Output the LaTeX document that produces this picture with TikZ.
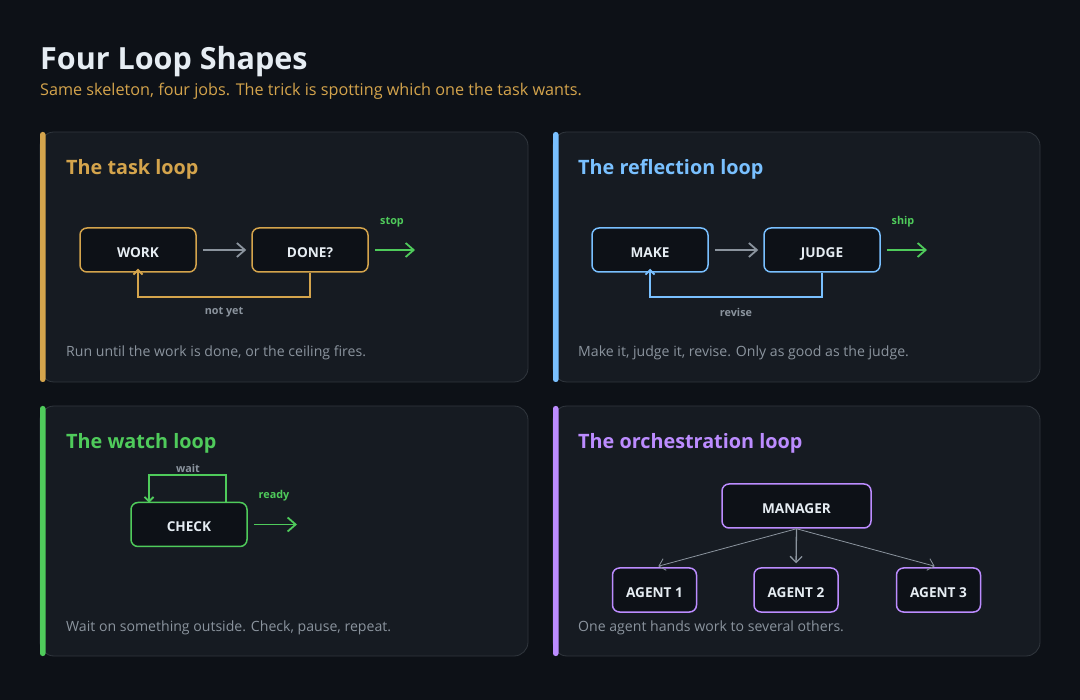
\documentclass[tikz,border=0pt]{standalone}
\usepackage{fontspec}
\setmainfont{Open Sans}
\usepackage{tikz}
\usetikzlibrary{
    arrows.meta,
    positioning
}

\definecolor{pagebg}{HTML}{0D1117}
\definecolor{cardbg}{HTML}{161B22}
\definecolor{cardline}{HTML}{30363D}
\definecolor{boxbg}{HTML}{0D1117}
\definecolor{inktext}{HTML}{E6EDF3}
\definecolor{mutetext}{HTML}{8B949E}
\definecolor{taskcol}{HTML}{D4A44C}
\definecolor{reflcol}{HTML}{79C0FF}
\definecolor{watchcol}{HTML}{4FCB5B}
\definecolor{orchcol}{HTML}{BC8CFF}

\tikzset{
    card/.style={fill=cardbg, draw=cardline, line width=0.8pt, rounded corners=14pt},
    accent/.style={fill=#1, rounded corners=2.5pt},
    cardtitle/.style={anchor=base west, text=#1, font=\bfseries\fontsize{19.8}{23}\selectfont, inner sep=0pt},
    carddesc/.style={anchor=base west, text=mutetext, font=\fontsize{14.1}{17}\selectfont, inner sep=0pt},
    stepbox/.style={draw=#1, fill=boxbg, line width=1.5pt, rounded corners=7pt,
        minimum width=116pt, minimum height=44pt, text=inktext,
        text height=15pt, text depth=0pt,
        font=\bfseries\fontsize{13.6}{16}\selectfont},
    agentbox/.style={stepbox=#1, minimum width=84pt},
    flowarrow/.style={draw=mutetext, line width=1.8pt, -{Straight Barb[length=8pt,width=14pt]},
        shorten <=6pt, shorten >=5pt},
    exitarrow/.style={draw=watchcol, line width=1.8pt, -{Straight Barb[length=8pt,width=14pt]}},
    backarrow/.style={draw=#1, line width=1.8pt, -{Straight Barb[length=4.5pt,width=9pt]}},
    fanarrow/.style={draw=mutetext, line width=#1, -{Straight Barb[length=6pt,width=12pt]},
        shorten >=4pt},
    looplabel/.style={text=mutetext, font=\bfseries\fontsize{10.8}{12}\selectfont, inner sep=0pt},
    exitlabel/.style={text=watchcol, font=\bfseries\fontsize{10.8}{12}\selectfont, inner sep=0pt}
}

\begin{document}
\begin{tikzpicture}[x=1pt,y=-1pt]

\fill[pagebg] (0,0) rectangle (1080,700);
\useasboundingbox (0,0) rectangle (1080,700);

% Heading
\node[anchor=base west, inner sep=0pt, text=inktext,
      font=\bfseries\fontsize{30.5}{36}\selectfont] (heading) at (40,70) {Four Loop Shapes};
\node[anchor=base west, inner sep=0pt, text=taskcol,
      font=\fontsize{16.2}{19}\selectfont] (subheading) at (40,96)
      {Same skeleton, four jobs. The trick is spotting which one the task wants.};

% Cards
\draw[card] (40,132) rectangle (528,382);
\draw[card] (553,132) rectangle (1040,382);
\draw[card] (40,406) rectangle (528,656);
\draw[card] (553,406) rectangle (1040,656);

\fill[accent=taskcol] (40,132) rectangle (45.5,382);
\fill[accent=reflcol] (553,132) rectangle (558.5,382);
\fill[accent=watchcol] (40,406) rectangle (45.5,656);
\fill[accent=orchcol] (553,406) rectangle (558.5,656);

% Task loop
\node[cardtitle=taskcol] (tasktitle) at (66,175) {The task loop};
\node[stepbox=taskcol] (work) at (138,250) {WORK};
\node[stepbox=taskcol] (done) at (310,250) {DONE?};
\coordinate (stopend) at (415,250);
\draw[flowarrow] (work) -- (done);
\draw[exitarrow] ([xshift=6pt]done.east) -- (stopend);
\node[exitlabel] (stoplabel) at (392,222) {stop};
\draw[backarrow=taskcol] (done.south) -- ++(0,24) -| ([yshift=4pt]work.south);
\node[looplabel] (notyet) at (224,312) {not yet};
\node[carddesc] (taskdesc) at (66,357) {Run until the work is done, or the ceiling fires.};

% Reflection loop
\node[cardtitle=reflcol] (refltitle) at (578,175) {The reflection loop};
\node[stepbox=reflcol] (make) at (650,250) {MAKE};
\node[stepbox=reflcol] (judge) at (822,250) {JUDGE};
\coordinate (shipend) at (927,250);
\draw[flowarrow] (make) -- (judge);
\draw[exitarrow] ([xshift=6pt]judge.east) -- (shipend);
\node[exitlabel] (shiplabel) at (903,222) {ship};
\draw[backarrow=reflcol] (judge.south) -- ++(0,24) -| ([yshift=4pt]make.south);
\node[looplabel] (revise) at (736,312) {revise};
\node[carddesc] (refldesc) at (578,357) {Make it, judge it, revise. Only as good as the judge.};

% Watch loop
\node[cardtitle=watchcol] (watchtitle) at (66,449) {The watch loop};
\node[stepbox=watchcol] (check) at (189,524.5) {CHECK};
\coordinate (readyend) at (297,524.5);
\draw[exitarrow] ([xshift=6pt]check.east) -- (readyend);
\node[exitlabel] (readylabel) at (274,496) {ready};
\draw[backarrow=watchcol] ([xshift=37pt]check.north) -- ++(0,-27) -| ([xshift=-40pt,yshift=-1pt]check.north);
\node[looplabel] (waitlabel) at (188,468) {wait};
\node[carddesc] (watchdesc) at (66,631) {Wait on something outside. Check, pause, repeat.};

% Orchestration loop
\node[cardtitle=orchcol] (orchtitle) at (578,449) {The orchestration loop};
\node[stepbox=orchcol, minimum width=149pt] (manager) at (796.5,506) {MANAGER};
\node[agentbox=orchcol] (agent1) at (654.5,590) {AGENT 1};
\node[agentbox=orchcol] (agent2) at (796,590) {AGENT 2};
\node[agentbox=orchcol] (agent3) at (938.5,590) {AGENT 3};
\draw[fanarrow=0.8pt] (manager.south) -- (agent1.north);
\draw[fanarrow=1.3pt] (manager.south) -- (agent2.north);
\draw[fanarrow=0.8pt] (manager.south) -- (agent3.north);
\node[carddesc] (orchdesc) at (578,631) {One agent hands work to several others.};

\end{tikzpicture}
\end{document}
